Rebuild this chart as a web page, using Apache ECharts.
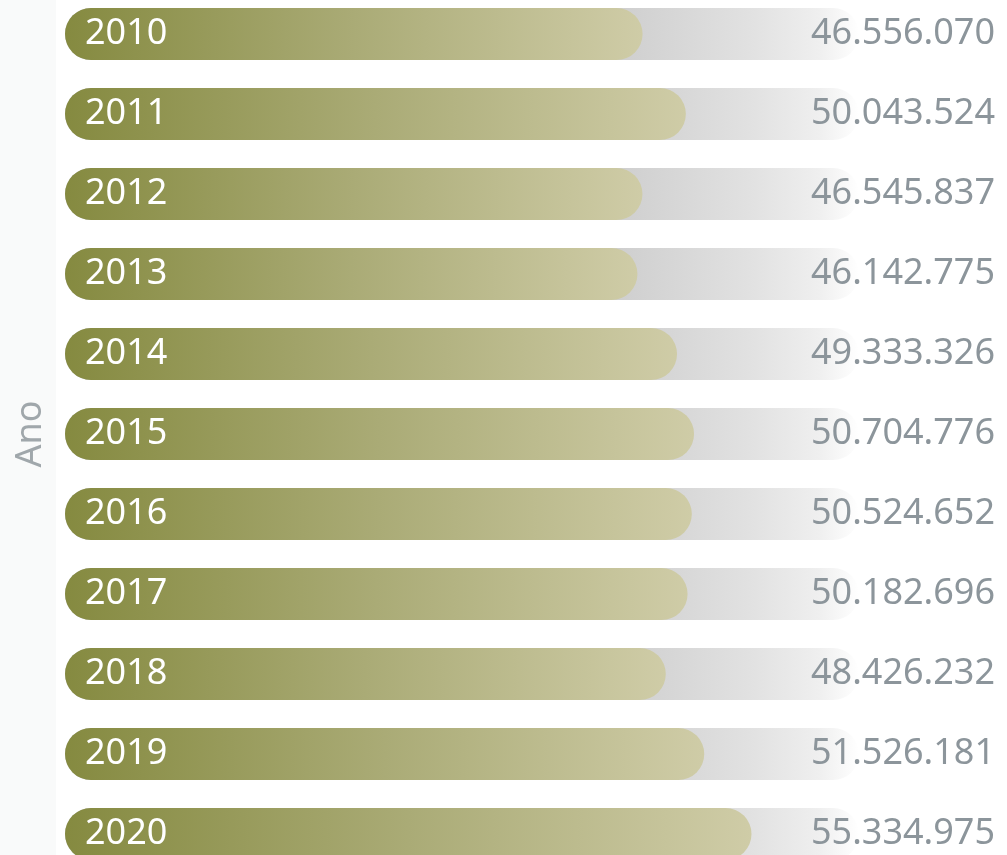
<!DOCTYPE html>
<html>
<head>
<meta charset="utf-8">
<script src="https://cdn.jsdelivr.net/npm/echarts@6/dist/echarts.min.js"></script>
<style>
  html, body { margin: 0; padding: 0; background: #fff; }
  #chart { width: 1007px; height: 855px; }
</style>
</head>
<body>
<div id="chart"></div>
<script>
// dados
const anos = ['2010', '2011', '2012', '2013', '2014', '2015', '2016', '2017', '2018', '2019', '2020']
const valores = [46556070, 50043524, 46545837, 46142775, 49333326, 50704776, 50524652, 50182696, 48426232, 51526181, 55334975]
const eixoMax = 64000000

const fmt = v => String(v).replace(/\B(?=(\d{3})+(?!\d))/g, '.')

const chart = echarts.init(document.getElementById('chart'))
const option = {
  animation: false,
  textStyle: { fontFamily: 'Noto Sans' },
  graphic: [
    { type: 'rect', z: -10, shape: { x: 0, y: 0, width: 56, height: 855 }, style: { fill: '#f9fafa' } }
  ],
  grid: { left: 65, right: 148, top: -6, bottom: -19, outerBoundsMode: 'none', containLabel: false },
  xAxis: { type: 'value', min: 0, max: eixoMax, show: false },
  yAxis: [
    {
      type: 'category',
      data: anos,
      inverse: true,
      name: 'Ano',
      nameLocation: 'middle',
      nameGap: 16,
      nameRotate: 90,
      nameTextStyle: { color: '#a0a7ab', fontSize: 36 },
      axisLine: { show: false },
      axisTick: { show: false },
      axisLabel: {
        inside: true, margin: 20, color: '#ffffff', fontSize: 36,
        backgroundColor: 'rgba(0,0,0,0)', padding: [6, 0, 0, 0]
      },
      z: 10
    },
    {
      type: 'category',
      data: valores.map(fmt),
      inverse: true,
      position: 'right',
      axisLine: { show: false },
      axisTick: { show: false },
      axisLabel: {
        align: 'right', margin: 136, color: '#8c959b', fontSize: 36,
        backgroundColor: 'rgba(0,0,0,0)', padding: [6, 0, 0, 0]
      },
      z: 10
    }
  ],
  series: [
    {
      type: 'bar',
      data: valores,
      barWidth: 52,
      showBackground: true,
      backgroundStyle: {
        borderRadius: 26,
        color: new echarts.graphic.LinearGradient(0, 0, 1, 0, [
          { offset: 0, color: '#bcbcbc' },
          { offset: 0.7, color: '#cfcfcf' },
          { offset: 0.87, color: '#e2e2e2' },
          { offset: 0.95, color: '#efefef' },
          { offset: 1, color: '#ffffff' }
        ])
      },
      itemStyle: {
        borderRadius: 26,
        color: new echarts.graphic.LinearGradient(0, 0, 1, 0, [
          { offset: 0, color: '#858a40' },
          { offset: 0.5, color: '#aaab76' },
          { offset: 1, color: '#cfcca7' }
        ])
      }
    }
  ]
}
chart.setOption(option)
window.addEventListener('resize', () => { chart.resize() })
</script>
</body>
</html>
